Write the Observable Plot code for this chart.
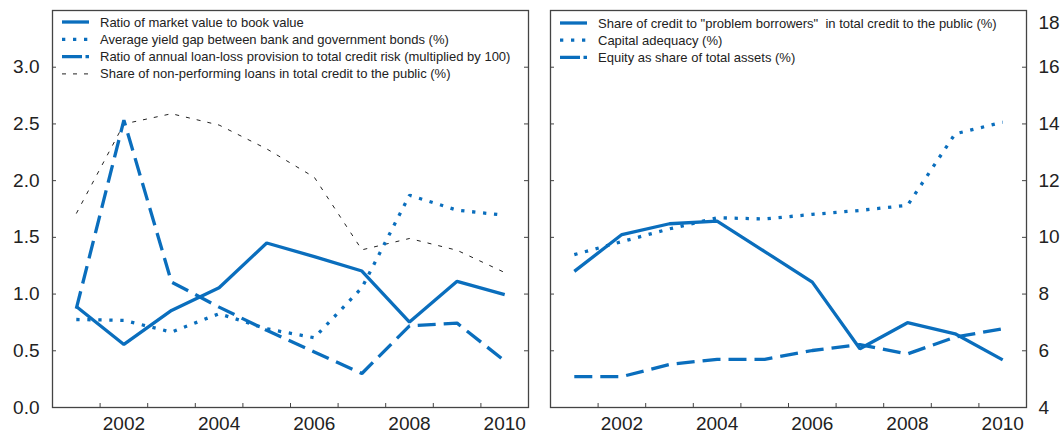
<!DOCTYPE html>
<html><head><meta charset="utf-8">
<script src="https://cdn.jsdelivr.net/npm/d3@7"></script>
<script src="https://cdn.jsdelivr.net/npm/@observablehq/plot@0.6"></script>
<style>
body{margin:0;background:#fff;}
#wrap{position:relative;width:1063px;height:434px;font-family:"Liberation Sans",Arial,Helvetica,sans-serif;}
#wrap > svg, #wrap > figure{position:absolute;top:0;margin:0;}
</style></head><body><div id="wrap"></div>
<script>
// ---- data ----
const years = [2001, 2002, 2003, 2004, 2005, 2006, 2007, 2008, 2009, 2010];
const xLabelYears = [2002, 2004, 2006, 2008, 2010];
const xTickYears = [2001.5, 2002.5, 2003.5, 2004.5, 2005.5, 2006.5, 2007.5, 2008.5, 2009.5];

// left panel
const marketToBook = [0.89, 0.556, 0.856, 1.056, 1.45, 1.33, 1.203, 0.753, 1.112, 0.995];
const yieldGap     = [0.776, 0.768, 0.665, 0.827, 0.694, 0.615, 1.056, 1.871, 1.74, 1.695];
const loanLoss     = [0.871, 2.533, 1.106, 0.885, 0.68, 0.49, 0.30, 0.72, 0.744, 0.41];
const nplShare     = [1.71, 2.50, 2.59, 2.49, 2.28, 2.03, 1.39, 1.49, 1.386, 1.19];
const leftTicks = [0, 0.5, 1.0, 1.5, 2.0, 2.5, 3.0];
const leftLegend = [
  "Ratio of market value to book value",
  "Average yield gap between bank and government bonds (%)",
  "Ratio of annual loan-loss provision to total credit risk (multiplied by 100)",
  "Share of non-performing loans in total credit to the public (%)"
];

// right panel
const problemShare    = [8.80, 10.10, 10.48, 10.57, 9.5, 8.42, 6.07, 6.99, 6.60, 5.68];
const capitalAdequacy = [9.39, 9.85, 10.30, 10.69, 10.65, 10.81, 10.95, 11.13, 13.65, 14.06];
const equityShare     = [5.09, 5.09, 5.52, 5.70, 5.70, 6.01, 6.22, 5.89, 6.48, 6.78];
const rightTicks = [4, 6, 8, 10, 12, 14, 16];
const rightTopTick = [18];
const rightLegend = [
  "Share of credit to \"problem borrowers\"  in total credit to the public (%)",
  "Capital adequacy (%)",
  "Equity as share of total assets (%)"
];

// ---- styles ----
const BLUE = "#0A6EBD";
const INK = "#222";
const FRAME = "#444";
const FONT = "'Liberation Sans', Arial, Helvetica, sans-serif";
const STY = {
  solid:  {stroke: BLUE, strokeWidth: 3.3},
  dotted: {stroke: BLUE, strokeWidth: 3.3, strokeDasharray: "3.3,7.7"},
  dashed: {stroke: BLUE, strokeWidth: 3.3, strokeDasharray: "18,8"},
  thin:   {stroke: INK, strokeWidth: 1, strokeDasharray: "4,7"}
};

const H = 434, MT = 10, MB = 27;
const frameH = H - MT - MB;

function rows(vals) { return years.map((y, i) => ({year: y, v: vals[i]})); }
function lineMark(vals, key) {
  return Plot.line(rows(vals), {x: "year", y: "v", ...STY[key], strokeLinecap: "butt", strokeLinejoin: "miter"});
}

const wrap = document.getElementById("wrap");

// left
{
  const W = 540, ML = 52, MR = 12, fw = W - ML - MR;
  const p = Plot.plot({
    width: W, height: H, marginLeft: ML, marginRight: MR, marginTop: MT, marginBottom: MB,
    x: {domain: [2000.5, 2010.5]},
    y: {domain: [0, 3.5]},
    style: {fontFamily: FONT, fontSize: "19px", color: INK, background: "white", overflow: "visible"},
    marks: [
      Plot.axisX(xLabelYears, {tickSize: 0, tickPadding: 9, tickFormat: d => String(d), label: null, fontSize: 19}),
      Plot.axisY(leftTicks, {tickSize: 0, tickPadding: 13, tickFormat: d3.format(".1f"), label: null, fontSize: 19}),
      Plot.tickX(xTickYears, {x: d => d, stroke: FRAME, insetTop: frameH - 4}),
      Plot.tickY(leftTicks, {y: d => d, stroke: FRAME, insetRight: fw - 4}),
      Plot.tickY(leftTicks, {y: d => d, stroke: FRAME, insetLeft: fw - 4}),
      lineMark(nplShare, "thin"),
      lineMark(loanLoss, "dashed"),
      lineMark(yieldGap, "dotted"),
      lineMark(marketToBook, "solid"),
      Plot.frame({stroke: FRAME, strokeWidth: 1.3})
    ]
  });
  p.style.left = "0px";
  wrap.appendChild(p);
}

// right
{
  const W = 523, ML = 10, MR = 37, fw = W - ML - MR;
  const p = Plot.plot({
    width: W, height: H, marginLeft: ML, marginRight: MR, marginTop: MT, marginBottom: MB,
    x: {domain: [2000.5, 2010.5]},
    y: {domain: [4, 18]},
    style: {fontFamily: FONT, fontSize: "19px", color: INK, background: "white", overflow: "visible"},
    marks: [
      Plot.axisX(xLabelYears, {tickSize: 0, tickPadding: 9, tickFormat: d => String(d), label: null, fontSize: 19}),
      Plot.axisY(rightTicks, {anchor: "right", tickSize: 0, tickPadding: 12, label: null, fontSize: 19}),
      Plot.axisY(rightTopTick, {anchor: "right", tickSize: 0, tickPadding: 12, label: null, fontSize: 19, dy: 12}),
      Plot.tickX(xTickYears, {x: d => d, stroke: FRAME, insetTop: frameH - 4}),
      Plot.tickY(rightTicks, {y: d => d, stroke: FRAME, insetRight: fw - 4}),
      Plot.tickY(rightTicks, {y: d => d, stroke: FRAME, insetLeft: fw - 4}),
      lineMark(equityShare, "dashed"),
      lineMark(capitalAdequacy, "dotted"),
      lineMark(problemShare, "solid"),
      Plot.frame({stroke: FRAME, strokeWidth: 1.3})
    ]
  });
  p.style.left = "540px";
  wrap.appendChild(p);
}

// legends
const svg = d3.select(wrap).append("svg")
  .attr("width", 1063).attr("height", 434)
  .style("left", "0px").style("pointer-events", "none");

function legend(items, keys, x0, y0, dyRow) {
  const g = svg.append("g");
  items.forEach((t, i) => {
    const y = y0 + i * dyRow;
    const s = STY[keys[i]];
    let dash = s.strokeDasharray || null;
    if (keys[i] === "dashed") dash = "20,3.5,4,100";
    g.append("line").attr("x1", x0).attr("x2", x0 + 27).attr("y1", y).attr("y2", y)
      .attr("stroke", s.stroke).attr("stroke-width", s.strokeWidth)
      .attr("stroke-dasharray", dash);
    g.append("text").attr("x", x0 + 38).attr("y", y).attr("dy", "0.35em")
      .attr("font-family", FONT).attr("font-size", 13).attr("fill", INK)
      .style("white-space", "pre").text(t);
  });
}
legend(leftLegend, ["solid", "dotted", "dashed", "thin"], 62, 22, 17.3);
legend(rightLegend, ["solid", "dotted", "dashed"], 560, 23, 17.2);
</script></body></html>
